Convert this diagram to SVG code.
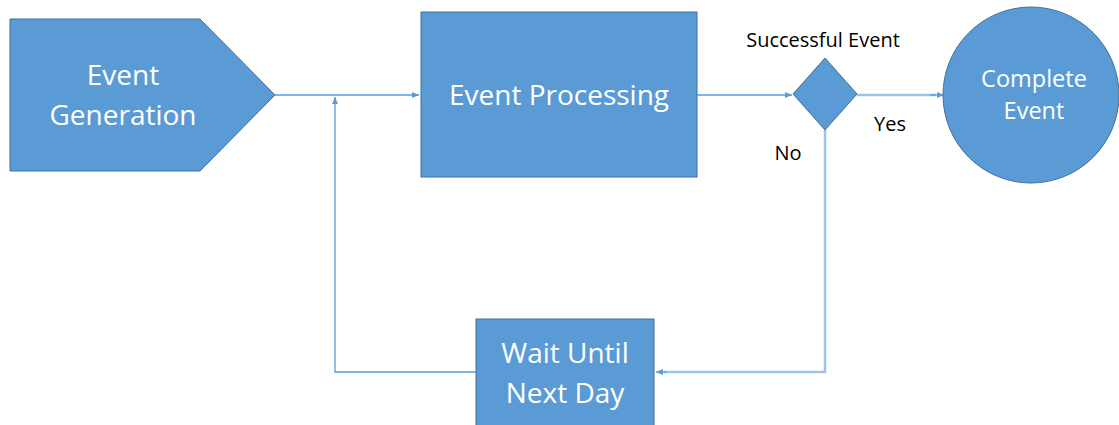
<svg xmlns="http://www.w3.org/2000/svg" width="1119" height="425" viewBox="0 0 1119 425">
  <style>
    .shape { fill: #5B9BD5; stroke: #41719C; stroke-width: 1; }
    .label { fill: #ffffff; font-family: "Open Sans", "Noto Sans", sans-serif; text-anchor: middle; }
    .note { fill: #000000; font-family: "Open Sans", "Noto Sans", sans-serif; font-size: 20px; text-anchor: middle; }
    .link { fill: none; stroke: #5B9BD5; stroke-width: 1.3; }
    .link-wide { fill: none; stroke: #9DC3E6; stroke-width: 2.5; }
  </style>
  <defs>
    <marker id="arrow" markerWidth="8" markerHeight="8" refX="7" refY="4" orient="auto" markerUnits="userSpaceOnUse">
      <path d="M0,1 L7,4 L0,7 Z" fill="#5B9BD5"/>
    </marker>
  </defs>
  <rect width="1119" height="425" fill="#ffffff"/>

  <g id="connectors">
    <path class="link" d="M275,95 H419" marker-end="url(#arrow)"/>
    <path class="link" d="M476,372 H335 V97" marker-end="url(#arrow)"/>
    <path class="link" d="M697,95 H792" marker-end="url(#arrow)"/>
    <path class="link-wide" d="M857,95 H936"/>
    <path class="link" d="M930,95 H944" marker-end="url(#arrow)"/>
    <path class="link-wide" d="M825,130 V372 H664"/>
    <path class="link" d="M666,372 H656" marker-end="url(#arrow)"/>
  </g>

  <g id="event-generation">
    <polygon class="shape" points="10,19 200,19 275,95 200,171 10,171"/>
    <text class="label" font-size="28" x="123" y="85">Event</text>
    <text class="label" font-size="28" x="123" y="125">Generation</text>
  </g>

  <g id="event-processing">
    <rect class="shape" x="421" y="12" width="276" height="165"/>
    <text class="label" font-size="28" x="559" y="105">Event Processing</text>
  </g>

  <g id="successful-event">
    <polygon class="shape" points="825,58 857,94 825,130 793,94"/>
    <text class="note" x="823" y="47">Successful Event</text>
    <text class="note" x="890" y="131">Yes</text>
    <text class="note" x="788" y="160">No</text>
  </g>

  <g id="complete-event">
    <circle class="shape" cx="1031" cy="95" r="88"/>
    <text class="label" font-size="23.5" x="1034" y="87">Complete</text>
    <text class="label" font-size="23.5" x="1034" y="119">Event</text>
  </g>

  <g id="wait-until-next-day">
    <rect class="shape" x="476" y="319" width="178" height="120"/>
    <text class="label" font-size="28" x="565" y="363">Wait Until</text>
    <text class="label" font-size="28" x="565" y="403">Next Day</text>
  </g>
</svg>
